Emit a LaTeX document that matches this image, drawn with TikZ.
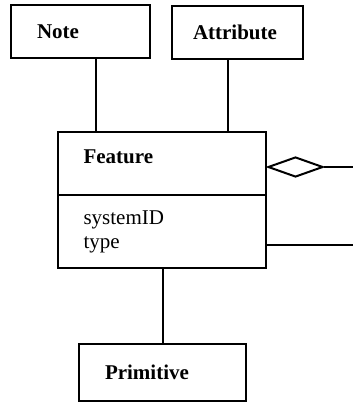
\documentclass[tikz,border=0pt]{standalone}
\usepackage{fontspec}
\setmainfont{Liberation Serif}
\usetikzlibrary{shapes.geometric}
\begin{document}
\begin{tikzpicture}[x=0.5pt,y=-0.5pt,line width=1pt,
  font=\fontsize{10.5}{12}\selectfont,
  box/.style={draw,rectangle,inner ysep=0pt,inner xsep=13pt,align=left},
  klasse/.style={box,font=\fontsize{10.5}{12}\selectfont\bfseries}]
\useasboundingbox (0,0) rectangle (353,402);
% Klassen oben
\node[klasse,minimum width=69.5pt,minimum height=26.5pt,text width=43.5pt] (note) at (80.5,31.5) {Note};
\node[klasse,inner xsep=10.5pt,minimum width=65.5pt,minimum height=26.5pt,text width=44.5pt] (attr) at (237.5,32.5) {Attribute};
% Feature mit Attributfach
\node[klasse,minimum width=104.25pt,minimum height=31.5pt,text width=78.25pt,text height=7pt,text depth=7pt] (feat) at (161.75,163.5) {Feature};
\node[box,minimum width=104.25pt,minimum height=36.5pt,text width=78.25pt] (featattr) at (161.75,231.5) {systemID\\type};
% Klasse unten
\node[klasse,minimum width=83.5pt,minimum height=28.5pt,text width=57.5pt] (prim) at (162.5,372.5) {Primitive};
% Aggregation nach rechts
\node[draw,diamond,inner sep=0pt,minimum width=27.5pt,minimum height=10pt,anchor=west] (agg) at ([yshift=-1.75pt]feat.east) {};
\coordinate (aggend) at (353,167);
\coordinate (assocend) at (353,245);
% Verbindungen
\draw ([xshift=7.6pt]note.south) -- ([xshift=7.6pt]note.south |- feat.north);
\draw ([xshift=-4.75pt]attr.south) -- ([xshift=-4.75pt]attr.south |- feat.north);
\draw (prim.north |- featattr.south) -- (prim.north);
\draw (agg.east) -- (aggend);
\draw (featattr.east |- assocend) -- (assocend);
\end{tikzpicture}
\end{document}
